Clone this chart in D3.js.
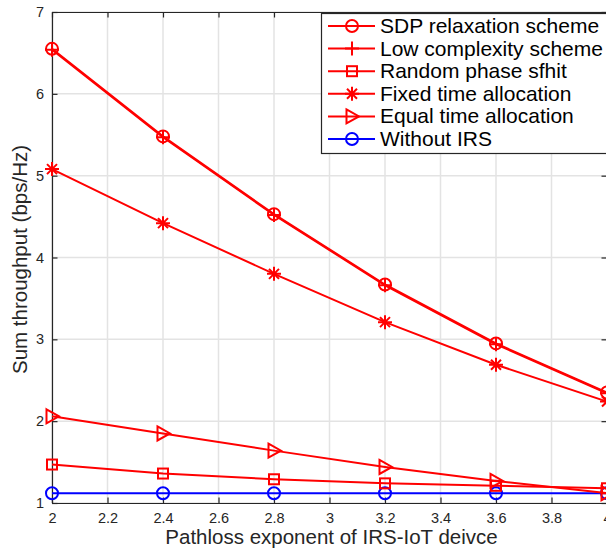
<!DOCTYPE html>
<html><head><meta charset="utf-8">
<script src="https://cdn.jsdelivr.net/npm/d3@7"></script>
<style>body{margin:0;background:#fff}svg{display:block}text{font-family:"Liberation Sans",Arial,Helvetica,sans-serif}</style>
</head><body><div id="c"></div>
<script>
const xValues = [2, 2.4, 2.8, 3.2, 3.6, 4];
const sdp = [6.55, 5.48, 4.53, 3.67, 2.95, 2.35];
const lowComplexity = [6.54, 5.47, 4.52, 3.66, 2.94, 2.34];
const randomPhase = [1.47, 1.36, 1.29, 1.24, 1.21, 1.18];
const fixedTime = [5.08, 4.42, 3.80, 3.21, 2.69, 2.24];
const equalTime = [2.06, 1.85, 1.64, 1.44, 1.27, 1.12];
const withoutIRS = [1.12, 1.12, 1.12, 1.12, 1.12, 1.12];
const seriesNames = ["SDP relaxation scheme","Low complexity scheme","Random phase sfhit","Fixed time allocation","Equal time allocation","Without IRS"];
const xTicks = [2,2.2,2.4,2.6,2.8,3,3.2,3.4,3.6,3.8,4];
const yTicks = [1,2,3,4,5,6,7];

const W=606,H=550;
const m={l:52,t:12,r:607,b:503};
const svg=d3.select("#c").append("svg").attr("width",W).attr("height",H);
const x=d3.scaleLinear().domain([2,4]).range([m.l,m.r]);
const y=d3.scaleLinear().domain([1,7]).range([m.b,m.t]);
const axc="#262626";
// grid
const g=svg.append("g");
g.selectAll(".gx").data(xTicks).join("line").attr("x1",d=>x(d)).attr("x2",d=>x(d)).attr("y1",m.t).attr("y2",m.b).attr("stroke","#e3e3e3").attr("stroke-width",1.5);
g.selectAll(".gy").data(yTicks).join("line").attr("y1",d=>y(d)).attr("y2",d=>y(d)).attr("x1",m.l).attr("x2",m.r).attr("stroke","#e3e3e3").attr("stroke-width",1.5);
// axes
const tl=5.5;
const axB=svg.append("g").attr("transform",`translate(0,${m.b})`).call(d3.axisBottom(x).tickValues(xTicks).tickSizeInner(-tl).tickSizeOuter(0).tickPadding(10).tickFormat(d3.format("")));
const axT=svg.append("g").attr("transform",`translate(0,${m.t})`).call(d3.axisTop(x).tickValues(xTicks).tickSizeInner(-tl).tickSizeOuter(0).tickFormat(""));
const axL=svg.append("g").attr("transform",`translate(${m.l},0)`).call(d3.axisLeft(y).tickValues(yTicks).tickSizeInner(-tl).tickSizeOuter(0).tickPadding(10).tickFormat(d3.format("")));
const axR=svg.append("g").attr("transform",`translate(${m.r},0)`).call(d3.axisRight(y).tickValues(yTicks).tickSizeInner(-tl).tickSizeOuter(0).tickFormat(""));
[axB,axT,axL,axR].forEach(a=>{a.select(".domain").attr("stroke",axc).attr("stroke-width",1.2);a.selectAll(".tick line").attr("stroke",axc).attr("stroke-width",1.2);a.selectAll("text").attr("fill",axc).attr("font-size",14.5).attr("font-family",'"Liberation Sans",Arial,sans-serif');});
axL.selectAll(".tick text").attr("dx",2);
axB.selectAll(".tick text").attr("dy","0.72em");

svg.append("text").attr("x",(m.l+m.r)/2+2).attr("y",544).attr("text-anchor","middle").attr("font-size",20.5).attr("fill",axc).text("Pathloss exponent of IRS-IoT deivce");
svg.append("text").attr("transform",`translate(27,${(m.t+m.b)/2+2}) rotate(-90)`).attr("text-anchor","middle").attr("font-size",20.5).attr("fill",axc).text("Sum throughput (bps/Hz)");

const red="#ff0000",blue="#0000ff";
function marker(sel,type,cx,cy,col){
  const s=sel.append("g").attr("transform",`translate(${cx},${cy})`).attr("fill","none").attr("stroke",col).attr("stroke-width",2);
  if(type==="o") s.append("circle").attr("r",6);
  else if(type==="+"){s.append("path").attr("d","M-7,0H7M0,-7V7");}
  else if(type==="s") s.append("rect").attr("x",-5).attr("y",-5).attr("width",10).attr("height",10);
  else if(type==="*"){s.append("path").attr("d","M-7,0H7M0,-7V7M-5,-5L5,5M-5,5L5,-5");}
  else if(type===">") s.append("path").attr("d","M-5.5,-7L7,0L-5.5,7Z");
}
const series=[
 {v:withoutIRS,c:blue,m:"o"},
 {v:randomPhase,c:red,m:"s"},
 {v:equalTime,c:red,m:">"},
 {v:fixedTime,c:red,m:"*"},
 {v:lowComplexity,c:red,m:"+"},
 {v:sdp,c:red,m:"o"}
];
const line=d3.line().x((d,i)=>x(xValues[i])).y(d=>y(d));
series.forEach(s=>{
  svg.append("path").datum(s.v).attr("d",line).attr("fill","none").attr("stroke",s.c).attr("stroke-width",2);
  s.v.forEach((d,i)=>marker(svg,s.m,x(xValues[i]),y(d),s.c));
});
// legend
const lg=svg.append("g");
lg.append("rect").attr("x",321.5).attr("y",13.5).attr("width",290).attr("height",140).attr("fill","#fff").attr("stroke","#262626").attr("stroke-width",1.2);
const legItems=[{c:red,m:"o"},{c:red,m:"+"},{c:red,m:"s"},{c:red,m:"*"},{c:red,m:">"},{c:blue,m:"o"}];
legItems.forEach((it,i)=>{
  const yy=26+i*22.6;
  lg.append("line").attr("x1",328).attr("x2",375).attr("y1",yy).attr("y2",yy).attr("stroke",it.c).attr("stroke-width",2);
  marker(lg,it.m,352,yy,it.c);
  lg.append("text").attr("x",380).attr("y",yy+7).attr("font-size",21).attr("fill","#000").text(seriesNames[i]);
});
</script></body></html>
